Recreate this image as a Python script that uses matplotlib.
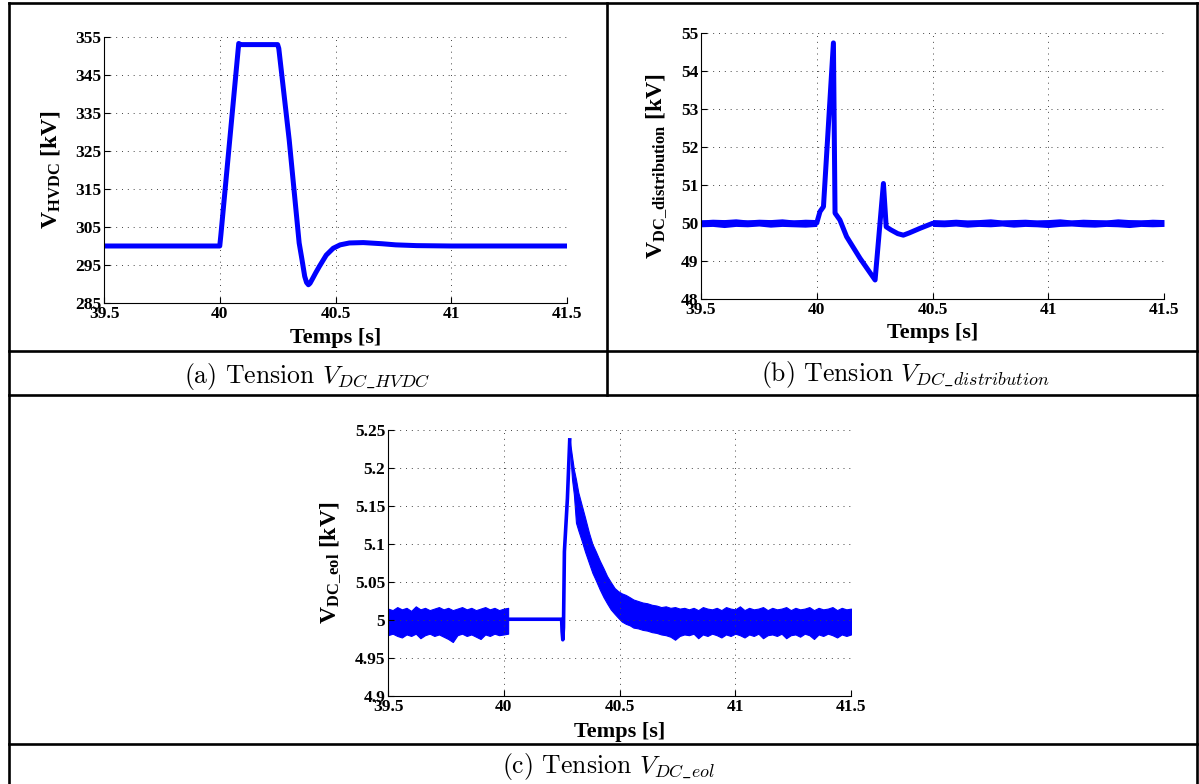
import numpy as np
import matplotlib.pyplot as plt
from matplotlib.lines import Line2D

plt.rcParams['mathtext.fontset'] = 'custom'
plt.rcParams['mathtext.bf'] = 'Liberation Serif:bold'
plt.rcParams['mathtext.rm'] = 'Liberation Serif'
plt.rcParams['mathtext.it'] = 'Liberation Serif:italic'

# Data
#--------------------------------------------------------------------
x_ticks = [39.5, 40, 40.5, 41, 41.5]
x_tick_labels = ['39.5', '40', '40.5', '41', '41.5']

# (a) V_HVDC
a_t = [39.5, 40.0, 40.005, 40.082, 40.09, 40.25, 40.255, 40.30, 40.343, 40.355,
       40.367, 40.375, 40.383, 40.39, 40.40, 40.415, 40.43, 40.46, 40.49, 40.52,
       40.56, 40.62, 40.70, 40.76, 40.85, 41.0, 41.5]
a_v = [300, 300, 303, 353.3, 353.0, 353.0, 352.0, 327.9, 300.8, 296.5,
       292.0, 290.4, 289.8, 290.2, 291.3, 293.0, 294.6, 297.6, 299.4, 300.3,
       300.8, 300.9, 300.6, 300.3, 300.1, 300.0, 300.0]
a_yticks = [285, 295, 305, 315, 325, 335, 345, 355]

# (b) V_DC_distribution
b_t = [39.5, 40.0, 40.014, 40.029, 40.072, 40.079, 40.10, 40.129, 40.187, 40.252,
       40.288, 40.30, 40.32, 40.35, 40.374, 40.40, 40.446, 40.50, 41.5]
b_v = [50.0, 50.0, 50.30, 50.43, 54.74, 50.26, 50.08, 49.64, 49.07, 48.5,
       51.04, 49.9, 49.82, 49.72, 49.68, 49.74, 49.86, 49.99, 50.0]
b_noise1_t = [39.5, 39.55, 39.6, 39.65, 39.7, 39.75, 39.8, 39.85, 39.9, 39.95, 40.0]
b_noise1_hi = [50.08, 50.10, 50.09, 50.11, 50.08, 50.10, 50.09, 50.11, 50.08, 50.10, 50.09]
b_noise1_lo = [49.90, 49.91, 49.88, 49.91, 49.90, 49.92, 49.89, 49.91, 49.90, 49.89, 49.91]
b_noise2_t = [40.5, 40.55, 40.6, 40.65, 40.7, 40.75, 40.8, 40.85, 40.9, 40.95, 41.0,
              41.05, 41.1, 41.15, 41.2, 41.25, 41.3, 41.35, 41.4, 41.45, 41.5]
b_noise2_hi = [50.09, 50.08, 50.10, 50.08, 50.09, 50.11, 50.08, 50.09, 50.10, 50.08, 50.09,
               50.11, 50.08, 50.10, 50.09, 50.08, 50.11, 50.09, 50.08, 50.10, 50.09]
b_noise2_lo = [49.91, 49.90, 49.92, 49.89, 49.91, 49.90, 49.92, 49.89, 49.91, 49.90, 49.88,
               49.91, 49.92, 49.90, 49.89, 49.91, 49.90, 49.88, 49.91, 49.90, 49.91]
b_yticks = [48, 49, 50, 51, 52, 53, 54, 55]

# (c) V_DC_eol
c_noise1_t = [39.50, 39.52, 39.54, 39.56, 39.58, 39.60, 39.62, 39.64, 39.66, 39.68,
              39.70, 39.72, 39.74, 39.76, 39.78, 39.80, 39.82, 39.84, 39.86, 39.88,
              39.90, 39.92, 39.94, 39.96, 39.98, 40.00, 40.019]
c_noise1_hi = [5.015, 5.013, 5.017, 5.014, 5.016, 5.012, 5.018, 5.014, 5.016, 5.013,
               5.015, 5.017, 5.014, 5.016, 5.013, 5.015, 5.017, 5.014, 5.016, 5.013,
               5.015, 5.017, 5.014, 5.016, 5.013, 5.015, 5.016]
c_noise1_lo = [4.980, 4.982, 4.979, 4.977, 4.981, 4.979, 4.982, 4.976, 4.980, 4.982,
               4.979, 4.981, 4.978, 4.975, 4.971, 4.980, 4.982, 4.979, 4.981, 4.978,
               4.975, 4.981, 4.979, 4.982, 4.980, 4.981, 4.982]
c_line_t = [40.019, 40.25, 40.252, 40.255, 40.258, 40.262, 40.275, 40.285]
c_line_v = [5.001, 5.001, 4.985, 4.974, 4.99, 5.09, 5.16, 5.237]
c_decay_t = [40.285, 40.295, 40.303, 40.312, 40.322, 40.336, 40.351, 40.368, 40.383, 40.398,
             40.415, 40.431, 40.446, 40.462, 40.479, 40.494, 40.51, 40.527, 40.544, 40.56,
             40.58, 40.60, 40.62, 40.64, 40.66, 40.68, 40.70, 40.72, 40.74, 40.76,
             40.78, 40.80, 40.82, 40.84, 40.86, 40.88, 40.90, 40.92, 40.94, 40.96,
             40.98, 41.00, 41.02, 41.04, 41.06, 41.08, 41.10, 41.12, 41.14, 41.16,
             41.18, 41.20, 41.22, 41.24, 41.26, 41.28, 41.30, 41.32, 41.34, 41.36,
             41.38, 41.40, 41.42, 41.44, 41.46, 41.48, 41.50]
c_decay_hi = [5.237, 5.215, 5.198, 5.185, 5.168, 5.152, 5.135, 5.115, 5.100, 5.090,
              5.078, 5.068, 5.058, 5.050, 5.042, 5.038, 5.035, 5.033, 5.030, 5.027,
              5.025, 5.023, 5.022, 5.020, 5.019, 5.017, 5.018, 5.016, 5.017, 5.015,
              5.016, 5.014, 5.016, 5.013, 5.017, 5.015, 5.014, 5.016, 5.013, 5.017,
              5.015, 5.014, 5.018, 5.013, 5.016, 5.014, 5.015, 5.017, 5.013, 5.016,
              5.014, 5.015, 5.017, 5.013, 5.016, 5.014, 5.015, 5.017, 5.013, 5.016,
              5.014, 5.015, 5.017, 5.013, 5.016, 5.014, 5.015]
c_decay_lo = [5.228, 5.185, 5.165, 5.128, 5.118, 5.105, 5.090, 5.075, 5.062, 5.052,
              5.040, 5.030, 5.022, 5.014, 5.008, 5.003, 4.998, 4.995, 4.993, 4.990,
              4.989, 4.987, 4.986, 4.984, 4.983, 4.981, 4.980, 4.978, 4.974, 4.979,
              4.981, 4.980, 4.982, 4.976, 4.981, 4.979, 4.982, 4.980, 4.977, 4.981,
              4.979, 4.982, 4.980, 4.977, 4.981, 4.979, 4.982, 4.976, 4.980, 4.981,
              4.979, 4.982, 4.976, 4.980, 4.981, 4.978, 4.982, 4.980, 4.975, 4.981,
              4.979, 4.982, 4.980, 4.977, 4.981, 4.979, 4.981]
c_yticks = [4.9, 4.95, 5.0, 5.05, 5.1, 5.15, 5.2, 5.25]
c_ytick_labels = ['4.9', '4.95', '5', '5.05', '5.1', '5.15', '5.2', '5.25']

# Figure / table layout
#--------------------------------------------------------------------
W, H = 1199, 784
fig = plt.figure(figsize=(W / 100, H / 100), dpi=100)

def px_axes(left, top, right, bottom):
    return fig.add_axes([left / W, 1 - bottom / H, (right - left) / W, (bottom - top) / H])

def hline(y, x0, x1):
    fig.add_artist(Line2D([x0 / W, x1 / W], [1 - y / H, 1 - y / H], color='k', lw=1.9,
                          transform=fig.transFigure))

def vline(x, y0, y1):
    fig.add_artist(Line2D([x / W, x / W], [1 - y0 / H, 1 - y1 / H], color='k', lw=1.9,
                          transform=fig.transFigure))

blue = '#0000FF'
tick_font = {'family': 'Liberation Serif', 'weight': 'bold', 'size': 12.5}

def style_ax(ax, ylim, yticks, ylabels, ylabel, ylab_x, xlab_y):
    ax.set_xlim(39.5, 41.5)
    ax.set_ylim(*ylim)
    ax.set_xticks(x_ticks)
    ax.set_xticklabels(x_tick_labels, fontdict=tick_font)
    ax.set_yticks(yticks)
    ax.set_yticklabels(ylabels, fontdict=tick_font)
    ax.grid(True, color='#444444', linewidth=0.7, linestyle=(0, (1, 5)))
    ax.spines['top'].set_visible(False)
    ax.spines['right'].set_visible(False)
    ax.tick_params(direction='in', length=4, pad=2, width=0.8)
    ax.set_xlabel('Temps [s]', family='Liberation Serif', weight='bold', fontsize=16)
    ax.xaxis.set_label_coords(0.5, xlab_y)
    ax.xaxis.label.set_verticalalignment('center')
    ax.set_ylabel(ylabel, family='Liberation Serif', weight='bold', fontsize=17)
    ax.yaxis.set_label_coords(ylab_x, 0.5)
    ax.yaxis.label.set_verticalalignment('center')

# (a)
ax1 = px_axes(104, 37, 567, 303)
ax1.plot(a_t, a_v, color=blue, lw=3.6, solid_joinstyle='round')
style_ax(ax1, (285, 355), a_yticks, [str(v) for v in a_yticks],
         r'$\mathbf{V}_{\mathbf{HVDC}}$ [kV]', -0.115, -0.132)

# (b)
ax2 = px_axes(701, 33, 1164, 299)
ax2.fill_between(b_noise1_t, b_noise1_lo, b_noise1_hi, color=blue, lw=0)
ax2.fill_between(b_noise2_t, b_noise2_lo, b_noise2_hi, color=blue, lw=0)
ax2.plot(b_t, b_v, color=blue, lw=3.6, solid_joinstyle='round')
style_ax(ax2, (48, 55), b_yticks, [str(v) for v in b_yticks],
         r'$\mathbf{V}_{\mathbf{DC\_distribution}}$ [kV]', -0.095, -0.128)

# (c)
ax3 = px_axes(388, 430, 851, 696)
ax3.fill_between(c_noise1_t, c_noise1_lo, c_noise1_hi, color=blue, lw=0.8)
ax3.plot(c_line_t, c_line_v, color=blue, lw=2.6, solid_joinstyle='round')
ax3.fill_between(c_decay_t, c_decay_lo, c_decay_hi, color=blue, lw=0.8)
style_ax(ax3, (4.9, 5.25), c_yticks, c_ytick_labels,
         r'$\mathbf{V}_{\mathbf{DC\_eol}}$ [kV]', -0.123, -0.135)

# Table borders and captions
#--------------------------------------------------------------------
hline(3, 9, 1197)
hline(351, 9, 1197)
hline(395, 9, 1197)
hline(744, 9, 1197)
vline(9, 3, 784)
vline(1197, 3, 784)
vline(607, 3, 395)

cap = {'family': 'cmr10', 'size': 18.5, 'ha': 'center', 'va': 'center', 'math_fontfamily': 'cm'}
fig.text(307 / W, 1 - 376 / H, r'(a) Tension $V_{DC\_HVDC}$', **cap)
fig.text(905 / W, 1 - 374 / H, r'(b) Tension $V_{DC\_distribution}$', **cap)
fig.text(608 / W, 1 - 766 / H, r'(c) Tension $V_{DC\_eol}$', **cap)

fig.savefig('out.png', dpi=100)
